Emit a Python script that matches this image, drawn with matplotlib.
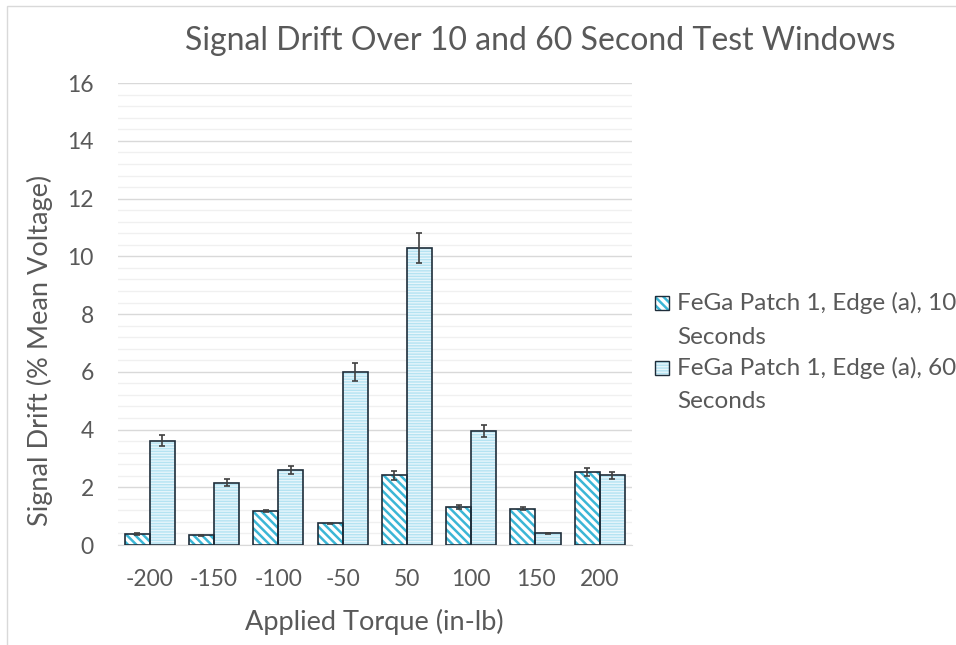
import matplotlib
matplotlib.use("Agg")
import matplotlib.pyplot as plt
import matplotlib.patches as mpatches
from matplotlib.ticker import MultipleLocator
import numpy as np

# ---- data -----------------------------------------------------------------
torque = ["-200", "-150", "-100", "-50", "50", "100", "150", "200"]
drift_10s = [0.38, 0.33, 1.18, 0.75, 2.41, 1.32, 1.26, 2.53]
err_10s   = [0.03, 0.03, 0.05, 0.03, 0.14, 0.06, 0.06, 0.14]
drift_60s = [3.61, 2.16, 2.59, 5.99, 10.30, 3.94, 0.40, 2.41]
err_60s   = [0.19, 0.12, 0.14, 0.32, 0.52, 0.21, 0.02, 0.12]
labels = ["FeGa Patch 1, Edge (a), 10\nSeconds",
          "FeGa Patch 1, Edge (a), 60\nSeconds"]

# ---- style ----------------------------------------------------------------
TEXT = "#595959"
EDGE = "#1e2d3a"
CYAN = "#3bb6d6"
PALE = "#e6f5fb"
WAVE = "#b4e3f2"
STRIPE = "\\" * 4
LINES = "-" * 6
plt.rcParams["font.family"] = ["Lato", "DejaVu Sans"]

fig = plt.figure(figsize=(9.56, 6.45), dpi=100)
ax = fig.add_axes([0.123, 0.155, 0.538, 0.716])

x = np.arange(len(torque))
w = 0.39

# 10 s bars: cyan diagonal stripes
with plt.rc_context({"hatch.linewidth": 1.8}):
    ax.bar(x - w / 2, drift_10s, w, color="white", edgecolor=CYAN, hatch=STRIPE,
           linewidth=0, zorder=2)
ax.bar(x - w / 2, drift_10s, w, fill=False, edgecolor=EDGE, linewidth=1.2, zorder=3)
# 60 s bars: pale fill with light horizontal lines
with plt.rc_context({"hatch.linewidth": 1.0}):
    ax.bar(x + w / 2, drift_60s, w, color=PALE, edgecolor=WAVE, hatch=LINES,
           linewidth=0, zorder=2)
ax.bar(x + w / 2, drift_60s, w, fill=False, edgecolor=EDGE, linewidth=1.2, zorder=3)

ax.errorbar(x - w / 2, drift_10s, yerr=err_10s, fmt="none", ecolor="#404040",
            elinewidth=1.2, capsize=2.5, capthick=1.2, zorder=4)
ax.errorbar(x + w / 2, drift_60s, yerr=err_60s, fmt="none", ecolor="#404040",
            elinewidth=1.2, capsize=2.5, capthick=1.2, zorder=4)

ax.set_xlim(-0.5, len(torque) - 0.5)
ax.set_ylim(0, 16)
ax.yaxis.set_major_locator(MultipleLocator(2))
ax.yaxis.set_minor_locator(MultipleLocator(0.4))
ax.grid(axis="y", which="major", color="#d9d9d9", linewidth=1.0, zorder=0)
ax.grid(axis="y", which="minor", color="#f0f0f0", linewidth=1.0, zorder=0)
ax.set_axisbelow(True)
for s in ["top", "right", "left"]:
    ax.spines[s].set_visible(False)
ax.spines["bottom"].set_color("#d9d9d9")

ax.set_xticks(x)
ax.set_xticklabels(torque)
ax.tick_params(axis="both", which="both", length=0, labelsize=16.5, colors=TEXT)
ax.tick_params(axis="x", pad=17.5)
ax.tick_params(axis="y", pad=17)

ax.set_xlabel("Applied Torque (in-lb)", fontsize=19.5, color=TEXT, labelpad=13.5)
ax.set_ylabel("Signal Drift (% Mean Voltage)", fontsize=19.5, color=TEXT)
ax.yaxis.set_label_coords(-0.126, 0.422)
fig.text(0.565, 0.937, "Signal Drift Over 10 and 60 Second Test Windows",
         ha="center", va="center", fontsize=23, color=TEXT)

# ---- legend (drawn by hand: Excel puts the key beside the first line) -----
hw, hh = 14 / 956, 14 / 645
key_styles = [
    dict(facecolor="white", edgecolor=CYAN, hatch=STRIPE, lw_h=1.8),
    dict(facecolor=PALE, edgecolor=WAVE, hatch=LINES, lw_h=1.0),
]
entry_y = [0.530, 0.4295]
line_gap = 0.0525
for lab, ks, y0 in zip(labels, key_styles, entry_y):
    with plt.rc_context({"hatch.linewidth": ks["lw_h"]}):
        fig.patches.append(mpatches.Rectangle(
            (0.685, y0 - hh / 2), hw, hh, transform=fig.transFigure,
            facecolor=ks["facecolor"], edgecolor=ks["edgecolor"],
            hatch=ks["hatch"], linewidth=0))
    fig.patches.append(mpatches.Rectangle(
        (0.685, y0 - hh / 2), hw, hh, transform=fig.transFigure,
        fill=False, edgecolor=EDGE, linewidth=1.0))
    for k, line in enumerate(lab.split("\n")):
        fig.text(0.708, y0 - k * line_gap, line, ha="left", va="center",
                 fontsize=17.5, color=TEXT)

# outer chart frame
fig.patches.append(mpatches.Rectangle((0.007, -0.05), 1.2, 1.04,
                                      transform=fig.transFigure, fill=False,
                                      edgecolor="#d9d9d9", linewidth=1.0))

fig.savefig("out.png", dpi=100)
